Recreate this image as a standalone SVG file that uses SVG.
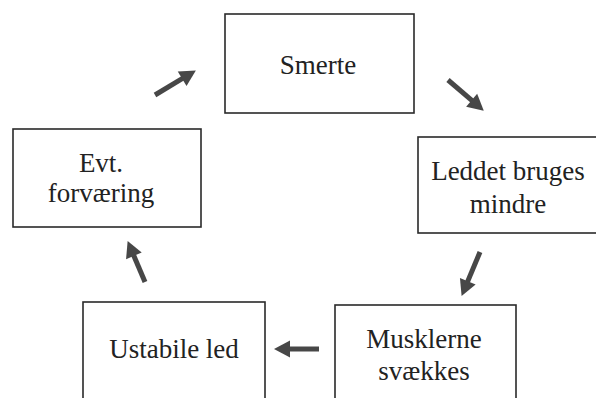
<svg xmlns="http://www.w3.org/2000/svg" width="596" height="398" viewBox="0 0 596 398">
<style>
.box{fill:#fff;stroke:#2a2a2a;stroke-width:1.6}
.t{font-family:"Liberation Serif","Times New Roman",serif;font-size:27px;fill:#222;text-anchor:middle}
.arr{stroke:#474747;stroke-width:5;fill:none;marker-end:url(#ah)}
</style>
<defs>
<marker id="ah" markerUnits="userSpaceOnUse" viewBox="0 -9 16 18" markerWidth="16" markerHeight="18" refX="0" refY="0" orient="auto" overflow="visible">
<path d="M-1,-8.5 L15,0 L-1,8.5 z" fill="#474747"/>
</marker>
</defs>
<rect width="596" height="398" fill="#fff"/>
<g id="smerte"><rect class="box" x="225" y="14" width="189" height="99"/><text class="t" x="318" y="74">Smerte</text></g>
<g id="leddet"><rect class="box" x="418" y="137" width="180" height="96"/><text class="t" x="508" y="180">Leddet bruges</text><text class="t" x="508" y="213">mindre</text></g>
<g id="musklerne"><rect class="box" x="335" y="305" width="181" height="100"/><text class="t" x="424" y="348">Musklerne</text><text class="t" x="424" y="380">svækkes</text></g>
<g id="ustabile"><rect class="box" x="83" y="302" width="182" height="100"/><text class="t" x="174" y="358">Ustabile led</text></g>
<g id="evt"><rect class="box" x="13" y="129" width="188" height="98"/><text class="t" x="101" y="172">Evt.</text><text class="t" x="101" y="202">forværing</text></g>
<g id="connectors">
<line class="arr" x1="155" y1="95" x2="183" y2="78.2"/>
<line class="arr" x1="448" y1="80" x2="472.4" y2="100.9"/>
<line class="arr" x1="480" y1="252" x2="467.4" y2="282.1"/>
<line class="arr" x1="319" y1="349" x2="289" y2="349"/>
<line class="arr" x1="145" y1="282" x2="133.5" y2="254.9"/>
</g>
</svg>
